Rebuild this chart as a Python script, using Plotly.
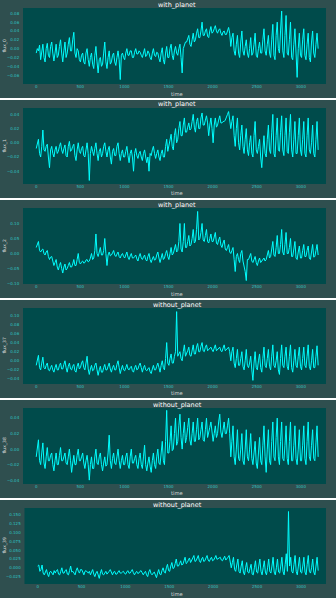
import numpy as np
import plotly.graph_objects as go

W, H = 336, 598

# Light curves (normalised flux) for three stars with a planet and three without
flux_0 = [
    -0.01, 0.0, -0.005, 0.008, -0.025, -0.01, 0.01, -0.02, -0.03, 0.0, 0.012, -0.015, -0.02, 0.005, 0.015, -0.01,
    -0.028, -0.01, 0.01, -0.02, -0.015, 0.005, 0.02, -0.01, -0.03, -0.005, 0.015, -0.02, -0.01, 0.01, 0.025, -0.005,
    -0.005, 0.02, 0.037, -0.01, -0.02, 0.0, -0.005, -0.025, -0.03, -0.015, -0.01, -0.03, -0.035, -0.01, 0.0, -0.025,
    -0.04, -0.02, -0.01, -0.035, -0.045, -0.015, 0.005, -0.03, -0.055, -0.025, -0.02, -0.04, -0.035, -0.01, 0.015, -0.03,
    -0.045, -0.02, -0.005, -0.035, -0.03, -0.015, -0.01, -0.03, -0.038, -0.02, -0.005, -0.025, -0.07, -0.015, -0.01, -0.02,
    -0.025, -0.01, 0.0, -0.015, -0.015, -0.005, -0.005, -0.02, -0.02, -0.008, 0.0, -0.012, -0.012, -0.005, -0.008, -0.015,
    -0.02, -0.01, 0.0, -0.018, -0.015, -0.005, -0.01, -0.02, -0.025, -0.01, 0.0, -0.015, -0.018, -0.008, -0.01, -0.022,
    -0.03, -0.01, 0.002, -0.025, -0.035, -0.01, 0.005, -0.02, -0.02, 0.0, 0.01, -0.015, -0.025, -0.005, 0.005, -0.01,
    -0.015, 0.0, 0.01, -0.02, -0.055, 0.0, 0.008, 0.015, 0.015, 0.025, 0.03, 0.01, 0.005, 0.02, 0.035, 0.015,
    0.02, 0.035, 0.045, 0.025, 0.025, 0.04, 0.06, 0.03, 0.03, 0.04, 0.045, 0.028, 0.025, 0.04, 0.05, 0.035,
    0.038, 0.045, 0.052, 0.04, 0.035, 0.042, 0.045, 0.035, 0.03, 0.038, 0.04, 0.032, 0.032, 0.04, 0.048, 0.035,
    0.005, 0.025, 0.035, -0.005, -0.015, 0.01, 0.03, -0.01, -0.02, 0.015, 0.04, -0.005, -0.015, 0.005, 0.02, -0.01,
    -0.02, 0.0, 0.025, -0.015, -0.01, 0.01, 0.035, -0.015, -0.02, 0.0, 0.015, -0.01, -0.01, 0.02, 0.045, -0.005,
    -0.015, 0.01, 0.03, -0.01, -0.02, 0.02, 0.055, -0.015, -0.025, 0.03, 0.06, 0.0, -0.01, 0.04, 0.085, -0.005,
    -0.02, 0.03, 0.075, -0.01, -0.015, 0.02, 0.06, -0.02, -0.025, 0.01, 0.045, -0.01, -0.065, 0.0, 0.035, -0.015,
    -0.02, 0.02, 0.045, -0.015, -0.025, 0.01, 0.035, -0.02, -0.03, 0.015, 0.04, -0.01, -0.02, 0.01, 0.035, 0.0,
]
flux_1 = [
    -0.008, 0.0, 0.005, -0.015, -0.02, -0.005, 0.018, -0.01, -0.012, -0.005, -0.002, -0.02, -0.035, -0.01, -0.005, -0.015,
    -0.02, -0.01, -0.005, -0.015, -0.012, -0.005, 0.0, -0.01, -0.015, -0.008, -0.003, -0.018, -0.02, -0.005, 0.002, -0.012,
    -0.01, -0.005, -0.002, -0.018, -0.025, -0.01, 0.0, -0.012, -0.015, -0.008, -0.005, -0.018, -0.02, -0.01, 0.0, -0.015,
    -0.053, -0.015, -0.005, -0.012, -0.018, -0.008, 0.0, -0.015, -0.025, -0.012, -0.008, -0.02, -0.015, -0.005, 0.0, -0.012,
    -0.02, -0.01, -0.005, -0.02, -0.03, -0.012, -0.008, -0.018, -0.018, -0.005, 0.0, -0.015, -0.025, -0.015, -0.01, -0.02,
    -0.02, -0.012, -0.005, -0.018, -0.028, -0.015, -0.01, -0.02, -0.04, -0.015, -0.008, -0.018, -0.022, -0.015, -0.012, -0.02,
    -0.025, -0.015, -0.01, -0.02, -0.028, -0.02, -0.04, -0.015, -0.018, -0.01, -0.005, -0.015, -0.022, -0.015, -0.01, -0.02,
    -0.025, -0.015, -0.01, -0.02, -0.02, -0.005, 0.005, -0.012, -0.005, 0.005, 0.012, -0.005, -0.01, 0.01, 0.02, 0.0,
    0.005, 0.02, 0.03, 0.01, 0.01, 0.025, 0.035, 0.015, 0.015, 0.022, 0.028, 0.018, 0.02, 0.03, 0.04, 0.022,
    0.015, 0.03, 0.035, 0.02, 0.02, 0.035, 0.042, 0.025, 0.025, 0.032, 0.038, 0.028, 0.01, 0.025, 0.035, 0.02,
    0.0, 0.025, 0.035, 0.022, 0.025, 0.032, 0.038, 0.028, 0.028, 0.03, 0.03, 0.032, 0.035, 0.04, 0.044, 0.03,
    0.02, 0.03, 0.038, 0.01, -0.005, 0.02, 0.035, 0.0, -0.01, 0.01, 0.025, -0.005, -0.015, 0.005, 0.02, -0.01,
    -0.018, 0.0, 0.01, -0.015, -0.02, 0.01, 0.03, -0.01, -0.015, -0.005, 0.005, -0.02, -0.035, -0.01, 0.01, -0.015,
    -0.02, 0.005, 0.025, -0.01, -0.015, 0.015, 0.04, -0.015, -0.02, 0.01, 0.035, -0.01, -0.012, 0.015, 0.038, -0.01,
    -0.018, 0.01, 0.035, -0.012, -0.015, 0.015, 0.04, -0.01, -0.02, 0.005, 0.03, -0.015, -0.015, 0.01, 0.035, -0.01,
    -0.018, 0.005, 0.03, -0.015, -0.02, 0.01, 0.035, -0.01, -0.015, 0.0, 0.025, -0.015, -0.02, 0.005, 0.03, -0.01,
]
flux_2 = [
    0.02, 0.03, 0.04, 0.01, 0.005, 0.012, 0.015, 0.0, -0.005, 0.005, 0.01, -0.01, -0.02, -0.012, -0.01, -0.025,
    -0.04, -0.03, -0.02, -0.045, -0.055, -0.04, -0.03, -0.05, -0.065, -0.045, -0.035, -0.055, -0.05, -0.04, -0.03, -0.045,
    -0.045, -0.035, -0.02, -0.04, -0.04, -0.02, 0.0, -0.03, -0.035, -0.028, -0.025, -0.032, -0.03, -0.022, -0.02, -0.028,
    -0.025, -0.015, 0.0, -0.02, -0.015, 0.01, 0.065, 0.0, -0.01, 0.005, 0.02, -0.005, -0.005, 0.01, 0.05, 0.0,
    -0.04, -0.005, 0.005, -0.008, -0.005, 0.002, 0.01, -0.005, -0.01, -0.002, 0.005, -0.01, -0.015, -0.005, 0.0, -0.01,
    -0.015, -0.005, 0.005, -0.012, -0.02, -0.008, 0.0, -0.015, -0.015, -0.01, -0.005, -0.018, -0.025, -0.01, 0.0, -0.015,
    -0.02, -0.012, -0.005, -0.02, -0.025, -0.01, 0.0, -0.02, -0.03, -0.018, -0.01, -0.022, -0.02, -0.005, 0.005, -0.015,
    -0.03, -0.015, 0.0, -0.02, -0.015, 0.0, 0.01, -0.01, -0.02, 0.0, 0.02, -0.005, 0.0, 0.015, 0.03, 0.005,
    0.01, 0.04, 0.1, 0.015, 0.005, 0.04, 0.1, 0.02, 0.02, 0.04, 0.06, 0.025, 0.03, 0.05, 0.08, 0.035,
    0.04, 0.08, 0.14, 0.045, 0.05, 0.07, 0.1, 0.045, 0.04, 0.06, 0.08, 0.04, 0.035, 0.05, 0.065, 0.04,
    0.04, 0.055, 0.07, 0.035, 0.03, 0.045, 0.055, 0.028, 0.02, 0.035, 0.045, 0.015, 0.01, 0.02, 0.03, 0.005,
    0.0, 0.01, 0.02, -0.02, -0.06, -0.01, 0.0, -0.02, -0.03, 0.0, 0.01, -0.025, -0.04, -0.06, -0.09, -0.02,
    -0.02, -0.01, 0.0, -0.025, -0.03, -0.02, -0.01, -0.03, -0.04, -0.025, -0.015, -0.03, -0.025, -0.02, -0.015, -0.025,
    -0.02, -0.005, 0.01, -0.015, -0.01, 0.015, 0.04, -0.005, -0.01, 0.02, 0.06, 0.0, 0.0, 0.03, 0.08, 0.005,
    -0.005, 0.03, 0.07, 0.0, 0.0, 0.02, 0.05, -0.01, -0.01, 0.015, 0.04, -0.015, -0.02, 0.005, 0.025, -0.015,
    -0.015, 0.01, 0.03, -0.01, -0.01, 0.01, 0.025, -0.015, -0.02, 0.005, 0.03, -0.012, -0.01, 0.01, 0.03, -0.005,
]
flux_37 = [
    -0.01, 0.0, 0.012, -0.015, -0.02, -0.005, 0.008, -0.015, -0.018, -0.01, -0.005, -0.02, -0.022, -0.015, -0.01, -0.02,
    -0.025, -0.015, -0.008, -0.02, -0.02, -0.01, -0.005, -0.018, -0.018, -0.008, 0.0, -0.015, -0.025, -0.012, -0.005, -0.018,
    -0.02, -0.012, -0.008, -0.022, -0.025, -0.012, -0.005, -0.018, -0.015, -0.005, 0.0, -0.015, -0.02, -0.005, 0.01, -0.018,
    -0.03, -0.018, -0.01, -0.022, -0.02, -0.01, -0.005, -0.02, -0.032, -0.02, -0.012, -0.025, -0.025, -0.015, -0.008, -0.02,
    -0.02, -0.012, -0.005, -0.018, -0.025, -0.015, -0.01, -0.02, -0.02, -0.008, 0.0, -0.015, -0.028, -0.018, -0.01, -0.02,
    -0.022, -0.015, -0.008, -0.018, -0.02, -0.015, -0.012, -0.022, -0.025, -0.015, -0.01, -0.02, -0.018, -0.01, -0.005, -0.015,
    -0.025, -0.015, -0.01, -0.02, -0.022, -0.018, -0.015, -0.024, -0.028, -0.018, -0.01, -0.02, -0.02, -0.012, -0.005, -0.015,
    -0.025, -0.01, 0.0, -0.015, -0.02, 0.005, 0.04, -0.005, -0.01, 0.005, 0.015, -0.005, -0.005, 0.01, 0.02, 0.108,
    0.01, 0.015, 0.02, 0.005, 0.0, 0.02, 0.035, 0.01, 0.015, 0.022, 0.03, 0.012, 0.01, 0.025, 0.035, 0.015,
    0.015, 0.03, 0.038, 0.02, 0.02, 0.032, 0.04, 0.022, 0.02, 0.03, 0.035, 0.022, 0.025, 0.028, 0.03, 0.024,
    0.02, 0.028, 0.035, 0.022, 0.025, 0.028, 0.03, 0.022, 0.02, 0.028, 0.035, 0.022, 0.025, 0.028, 0.03, 0.02,
    0.0, 0.02, 0.03, -0.005, -0.015, 0.005, 0.025, -0.01, -0.01, 0.005, 0.02, -0.012, -0.02, 0.0, 0.025, -0.01,
    -0.015, -0.005, 0.01, -0.02, -0.043, -0.005, 0.02, -0.015, -0.02, 0.0, 0.015, -0.015, -0.025, 0.005, 0.03, -0.01,
    -0.015, 0.005, 0.025, -0.012, -0.02, 0.01, 0.035, -0.01, -0.015, 0.0, 0.02, -0.02, -0.03, 0.005, 0.035, -0.01,
    -0.015, 0.01, 0.03, -0.012, -0.02, 0.01, 0.035, -0.015, -0.025, 0.0, 0.025, -0.01, -0.015, 0.01, 0.03, -0.012,
    -0.02, 0.005, 0.03, -0.01, -0.015, 0.01, 0.035, -0.012, -0.02, 0.0, 0.025, -0.015, -0.015, 0.01, 0.033, -0.01,
]
flux_38 = [
    -0.01, 0.0, 0.012, -0.015, -0.02, -0.005, 0.008, -0.018, -0.025, -0.01, 0.002, -0.015, -0.015, -0.008, -0.005, -0.02,
    -0.028, -0.015, -0.005, -0.02, -0.02, -0.008, 0.002, -0.015, -0.015, -0.01, -0.005, -0.018, -0.02, -0.01, 0.0, -0.015,
    -0.03, -0.018, -0.008, -0.02, -0.02, -0.008, 0.0, -0.015, -0.015, -0.01, -0.005, -0.018, -0.025, -0.015, -0.008, -0.02,
    -0.04, -0.02, -0.01, -0.025, -0.025, -0.01, 0.0, -0.018, -0.02, -0.01, -0.005, -0.02, -0.028, -0.018, -0.01, -0.022,
    -0.02, -0.005, 0.018, -0.015, -0.025, -0.012, -0.005, -0.018, -0.02, -0.01, 0.0, -0.015, -0.025, -0.015, -0.008, -0.02,
    -0.02, -0.01, -0.005, -0.02, -0.025, -0.01, 0.0, -0.018, -0.018, -0.012, -0.008, -0.02, -0.025, -0.012, -0.005, -0.02,
    -0.025, -0.01, 0.005, -0.02, -0.028, -0.018, -0.01, -0.022, -0.03, -0.015, -0.005, -0.02, -0.025, -0.01, 0.0, -0.018,
    -0.02, -0.005, 0.01, -0.015, -0.02, 0.01, 0.05, -0.005, -0.005, 0.01, 0.03, -0.002, 0.0, 0.02, 0.04, 0.005,
    0.01, 0.03, 0.045, 0.015, 0.0, 0.02, 0.035, 0.008, 0.015, 0.028, 0.04, 0.012, 0.005, 0.02, 0.035, 0.01,
    0.01, 0.025, 0.04, 0.012, 0.015, 0.025, 0.035, 0.012, 0.01, 0.025, 0.04, 0.015, 0.02, 0.028, 0.035, 0.018,
    0.01, 0.02, 0.03, 0.015, 0.02, 0.035, 0.045, 0.022, 0.015, 0.025, 0.035, 0.02, 0.02, 0.03, 0.04, 0.02,
    -0.01, 0.01, 0.03, -0.01, -0.02, 0.0, 0.025, -0.012, -0.015, 0.0, 0.02, -0.015, -0.02, 0.0, 0.025, -0.01,
    -0.015, 0.0, 0.02, -0.012, -0.02, -0.005, 0.01, -0.018, -0.025, -0.005, 0.015, -0.015, -0.02, 0.005, 0.03, -0.01,
    -0.03, 0.0, 0.025, -0.015, -0.02, 0.01, 0.035, -0.01, -0.015, 0.015, 0.04, -0.01, -0.02, 0.01, 0.035, -0.012,
    -0.015, 0.005, 0.03, -0.012, -0.02, 0.01, 0.035, -0.015, -0.015, 0.005, 0.03, -0.012, -0.02, 0.0, 0.025, -0.015,
    -0.015, 0.005, 0.03, -0.012, -0.02, 0.01, 0.035, -0.01, -0.015, 0.005, 0.025, -0.012, -0.015, 0.008, 0.03, -0.01,
]
flux_39 = [
    0.005, 0.008, -0.01, -0.005, 0.008, -0.015, -0.02, -0.01, -0.005, -0.018, -0.025, -0.012, -0.01, -0.015, -0.02, -0.008,
    -0.015, -0.008, -0.005, -0.018, -0.02, -0.01, 0.0, -0.015, -0.015, -0.008, -0.005, -0.018, -0.02, -0.008, 0.005, -0.012,
    -0.01, -0.015, -0.02, -0.008, 0.0, -0.01, -0.015, -0.005, -0.005, -0.012, -0.02, -0.01, -0.008, -0.012, -0.015, -0.01,
    -0.02, -0.012, -0.005, -0.018, -0.025, -0.015, -0.01, -0.02, -0.03, -0.015, -0.005, -0.018, -0.02, -0.015, -0.01, -0.018,
    -0.015, -0.01, -0.005, -0.015, -0.02, -0.012, -0.01, -0.018, -0.018, -0.012, -0.008, -0.015, -0.015, -0.012, -0.01, -0.016,
    -0.018, -0.012, -0.008, -0.015, -0.015, -0.01, -0.005, -0.014, -0.02, -0.014, -0.01, -0.016, -0.015, -0.01, -0.008, -0.014,
    -0.02, -0.014, -0.01, -0.02, -0.025, -0.012, -0.005, -0.016, -0.02, -0.015, -0.012, -0.02, -0.028, -0.015, -0.005, -0.018,
    -0.02, -0.008, 0.0, -0.012, -0.015, 0.0, 0.01, -0.008, -0.01, 0.005, 0.015, -0.002, 0.0, 0.012, 0.025, 0.005,
    0.005, 0.012, 0.02, 0.008, 0.01, 0.02, 0.03, 0.012, 0.015, 0.022, 0.028, 0.015, 0.02, 0.028, 0.035, 0.018,
    0.02, 0.028, 0.035, 0.02, 0.015, 0.025, 0.03, 0.018, 0.02, 0.028, 0.035, 0.022, 0.018, 0.025, 0.03, 0.02,
    0.022, 0.028, 0.035, 0.024, 0.025, 0.028, 0.03, 0.022, 0.02, 0.027, 0.033, 0.022, 0.025, 0.03, 0.035, 0.022,
    0.0, 0.015, 0.03, -0.005, -0.01, 0.008, 0.025, -0.01, -0.015, 0.005, 0.02, -0.012, -0.02, 0.0, 0.015, -0.012,
    -0.015, -0.002, 0.01, -0.018, -0.02, 0.0, 0.02, -0.012, -0.015, 0.005, 0.025, -0.01, -0.02, 0.0, 0.02, -0.012,
    -0.02, 0.0, 0.025, -0.01, -0.015, 0.005, 0.03, -0.012, -0.02, 0.0, 0.025, -0.012, -0.015, 0.005, 0.03, -0.01,
    -0.02, 0.01, 0.04, -0.01, 0.16, 0.005, 0.03, -0.01, -0.015, 0.01, 0.035, -0.01, -0.02, 0.005, 0.03, -0.012,
    -0.015, 0.005, 0.03, -0.012, -0.02, 0.01, 0.035, -0.01, -0.015, 0.0, 0.025, -0.012, -0.02, 0.005, 0.03, -0.008,
]

series_names = ["flux_0", "flux_1", "flux_2", "flux_37", "flux_38", "flux_39"]
series_values = [flux_0, flux_1, flux_2, flux_37, flux_38, flux_39]
panel_titles = ["with_planet", "with_planet", "with_planet",
                "without_planet", "without_planet", "without_planet"]
time_ticks = [0, 500, 1000, 1500, 2000, 2500, 3000]
y_ticks = [
    [-0.06, -0.04, -0.02, 0.0, 0.02, 0.04, 0.06, 0.08],
    [-0.04, -0.02, 0.0, 0.02, 0.04],
    [-0.10, -0.05, 0.0, 0.05, 0.10],
    [-0.04, -0.02, 0.0, 0.02, 0.04, 0.06, 0.08, 0.10],
    [-0.04, -0.02, 0.0, 0.02, 0.04],
    [-0.025, 0.0, 0.025, 0.05, 0.075, 0.1, 0.125, 0.15],
]
y_ranges = [
    [-0.080, 0.092],
    [-0.058, 0.049],
    [-0.1015, 0.1515],
    [-0.051, 0.116],
    [-0.045, 0.053],
    [-0.046, 0.170],
]
y_formats = [".2f", ".2f", ".2f", ".2f", ".2f", ".3f"]

PANEL_BG = "#2f4f4f"
PLOT_BG = "#004b4b"
LINE = "#00ffff"
TICK = "#2ec4c4"
LABEL = "#d8d8d8"

# each light curve covers 3197 cadences
n = len(flux_0)
time = np.linspace(0, 3196, n)


def px(x):
    return x / W


def py(y):
    return 1 - y / H


fig = go.Figure()
layout = dict(
    width=W, height=H,
    margin=dict(l=0, r=0, t=0, b=0),
    paper_bgcolor="white",
    plot_bgcolor="rgba(0,0,0,0)",
    showlegend=False,
    font=dict(family="DejaVu Sans"),
)
shapes = []
annotations = []

for k, (name, vals) in enumerate(zip(series_names, series_values)):
    top0 = 100 * k
    left = 24.5 if k == 5 else 23
    right = 326
    top = top0 + 8
    bottom = top0 + 84
    ax = "" if k == 0 else str(k + 1)

    # panel and plotting-area backgrounds
    shapes.append(dict(type="rect", xref="paper", yref="paper", layer="below",
                       x0=0, x1=1, y0=py(top0 + 98), y1=py(top0),
                       fillcolor=PANEL_BG, line=dict(width=0)))
    shapes.append(dict(type="rect", xref="paper", yref="paper", layer="below",
                       x0=px(left), x1=px(right), y0=py(bottom), y1=py(top),
                       fillcolor=PLOT_BG, line=dict(width=0)))

    fig.add_trace(go.Scatter(
        x=time, y=vals, mode="lines",
        line=dict(color=LINE, width=1),
        xaxis="x" + ax, yaxis="y" + ax, hoverinfo="skip",
    ))

    layout["xaxis" + ax] = dict(
        domain=[px(left), px(right)], anchor="y" + ax,
        range=[-150, 3285], tickvals=time_ticks,
        ticks="", ticklabelstandoff=-1,
        tickfont=dict(size=4, color=TICK),
        showgrid=False, zeroline=False, showline=False, automargin=False,
    )
    layout["yaxis" + ax] = dict(
        domain=[py(bottom), py(top)], anchor="x" + ax,
        range=y_ranges[k], tickvals=y_ticks[k], tickformat=y_formats[k],
        ticks="outside", ticklen=2, tickcolor=PANEL_BG,
        tickfont=dict(size=4, color=TICK),
        showgrid=False, zeroline=False, showline=False, automargin=False,
    )

    annotations.append(dict(text=panel_titles[k], xref="paper", yref="paper",
                            x=px(177), y=py(top0 + 4.5), showarrow=False,
                            xanchor="center", yanchor="middle",
                            font=dict(size=6.5, color="white")))
    annotations.append(dict(text="time", xref="paper", yref="paper",
                            x=px(177), y=py(top0 + 93.5), showarrow=False,
                            xanchor="center", yanchor="middle",
                            font=dict(size=5.2, color=LABEL)))
    annotations.append(dict(text=name, xref="paper", yref="paper",
                            x=px(4.5), y=py(top0 + 46), showarrow=False,
                            textangle=-90, xanchor="center", yanchor="middle",
                            font=dict(size=4.5, color=LABEL)))

layout["shapes"] = shapes
layout["annotations"] = annotations
fig.update_layout(**layout)
fig.write_html("out.html")
